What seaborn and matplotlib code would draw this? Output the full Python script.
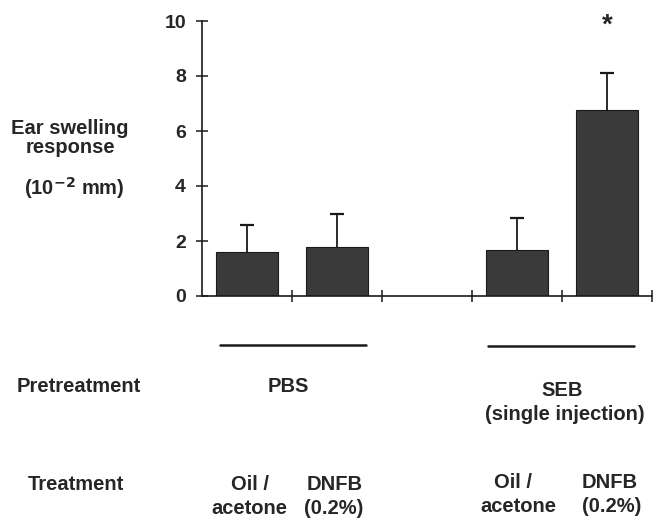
import matplotlib

matplotlib.use("Agg")
import matplotlib.pyplot as plt
import pandas as pd
import seaborn as sns

# data
groups = ["PBS_oil", "PBS_dnfb", "gap", "SEB_oil", "SEB_dnfb"]
bar_groups = ["PBS_oil", "PBS_dnfb", "SEB_oil", "SEB_dnfb"]
means = [1.6, 1.78, 1.67, 6.76]
errors = [0.98, 1.2, 1.16, 1.34]
yticks = [0, 2, 4, 6, 8, 10]

W, H = 653, 519


def fx(px):
    return px / W


def fy(py):
    return 1 - py / H


sns.set_theme(style="ticks")
plt.rcParams["font.family"] = ["Liberation Sans", "DejaVu Sans"]
plt.rcParams["font.weight"] = "bold"

fig = plt.figure(figsize=(W / 100, H / 100), dpi=100)
ax = fig.add_axes([fx(202), fy(296), fx(652) - fx(202), fy(21) - fy(296)])

df = pd.DataFrame({"group": bar_groups, "swelling": means})
sns.barplot(data=df, x="group", y="swelling", order=groups, color="#3a3a3a",
            width=0.68, edgecolor="#1a1a1a", linewidth=0.8, saturation=1, ax=ax)

# upper-only error bars
xpos = [groups.index(g) for g in bar_groups]
tops = [m + e for m, e in zip(means, errors)]
ax.vlines(xpos, means, tops, color="#1a1a1a", lw=1.3)
ax.plot(xpos, tops, ls="none", marker="_", ms=10, mew=1.6, color="#1a1a1a")

# significance mark over the last bar
ax.text(groups.index("SEB_dnfb"), tops[-1] + 1.75, "*",
        ha="center", va="center", fontsize=20, fontweight="bold", clip_on=False)

ax.set_xlim(-0.5, 4.5)
ax.set_ylim(0, 10)
ax.set_yticks(yticks)
ax.set_yticklabels([str(t) for t in yticks], fontsize=14, fontweight="bold")
ax.set_xticks([0.5, 1.5, 2.5, 3.5, 4.5])
ax.set_xticklabels([])
ax.set_xlabel("")
ax.set_ylabel("")
ax.tick_params(axis="y", left=True, direction="inout", length=9, width=1.1,
               color="#1a1a1a", pad=7)
ax.tick_params(axis="x", bottom=True, direction="inout", length=9, width=1.1,
               color="#1a1a1a")
for side in ["top", "right"]:
    ax.spines[side].set_visible(False)
for side in ["left", "bottom"]:
    ax.spines[side].set_color("#1a1a1a")
    ax.spines[side].set_linewidth(1.2)

lab = dict(ha="center", va="center", fontsize=14.5, fontweight="bold")

# y label
fig.text(fx(70), fy(128), "Ear swelling", **lab)
fig.text(fx(70), fy(148), "response", **lab)
fig.text(fx(74), fy(188), "(10$^{\\mathbf{-2}}$ mm)", **lab)

# group lines
fig.add_artist(plt.Line2D([fx(220), fx(366)], [fy(345), fy(345)], color="#1a1a1a", lw=1.8))
fig.add_artist(plt.Line2D([fx(488), fx(634)], [fy(346), fy(346)], color="#1a1a1a", lw=1.8))

# pretreatment / treatment labels
fig.text(fx(79), fy(386), "Pretreatment", **lab)
fig.text(fx(288), fy(386), "PBS", **lab)
fig.text(fx(562), fy(391), "SEB", **lab)
fig.text(fx(565), fy(414), "(single injection)", **lab)
fig.text(fx(76), fy(484), "Treatment", **lab)
fig.text(fx(250), fy(484), "Oil /", **lab)
fig.text(fx(249), fy(508), "acetone", **lab)
fig.text(fx(335), fy(484), "DNFB", **lab)
fig.text(fx(334), fy(508), "(0.2%)", **lab)
fig.text(fx(513), fy(482), "Oil /", **lab)
fig.text(fx(518), fy(507), "acetone", **lab)
fig.text(fx(610), fy(482), "DNFB", **lab)
fig.text(fx(612), fy(507), "(0.2%)", **lab)

fig.savefig("out.png", dpi=100)
